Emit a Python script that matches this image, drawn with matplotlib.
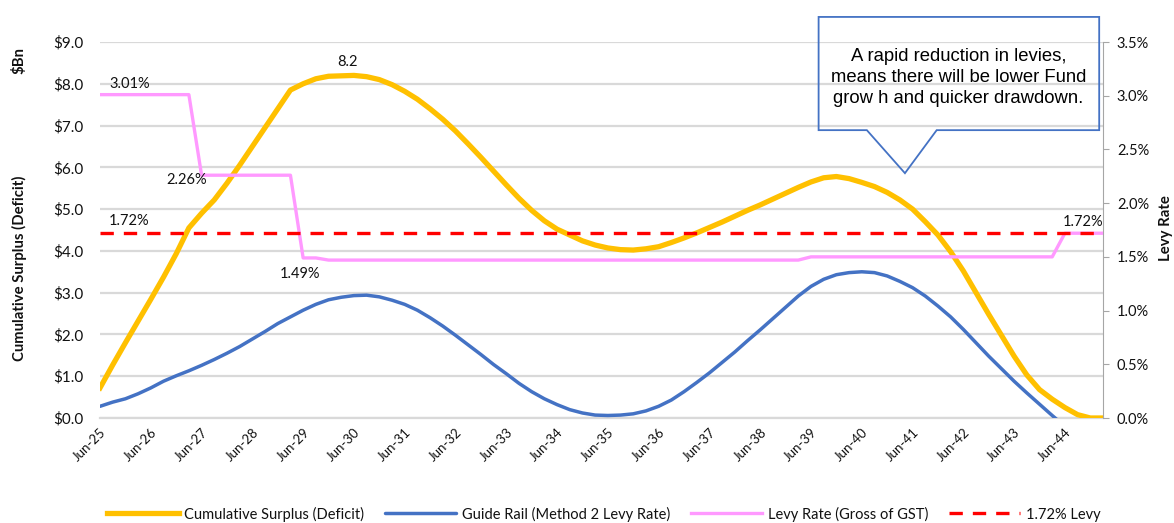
import matplotlib.pyplot as plt
from matplotlib.patches import Polygon

plt.rcParams['font.family'] = ['Lato', 'DejaVu Sans']

# quarterly points, Jun-25 through Mar-45
quarters = list(range(80))
tick_labels = ["Jun-25", "Jun-26", "Jun-27", "Jun-28", "Jun-29", "Jun-30", "Jun-31",
               "Jun-32", "Jun-33", "Jun-34", "Jun-35", "Jun-36", "Jun-37", "Jun-38",
               "Jun-39", "Jun-40", "Jun-41", "Jun-42", "Jun-43", "Jun-44"]

# $Bn
surplus = [0.72, 1.27, 1.80, 2.32, 2.84, 3.37, 3.93, 4.55, 4.90, 5.22,
           5.62, 6.05, 6.50, 6.95, 7.40, 7.85, 8.00, 8.12, 8.18, 8.19,
           8.20, 8.17, 8.10, 7.98, 7.82, 7.63, 7.40, 7.15, 6.87, 6.56,
           6.24, 5.91, 5.58, 5.26, 4.97, 4.72, 4.52, 4.38, 4.24, 4.14,
           4.07, 4.03, 4.02, 4.05, 4.10, 4.20, 4.31, 4.43, 4.56, 4.69,
           4.83, 4.97, 5.10, 5.24, 5.38, 5.52, 5.65, 5.75, 5.78, 5.73,
           5.64, 5.54, 5.40, 5.22, 5.00, 4.70, 4.38, 3.98, 3.52, 3.00,
           2.48, 1.98, 1.48, 1.03, 0.68, 0.45, 0.25, 0.08, 0.00, 0.00]

guide_rail = [0.28, 0.38, 0.46, 0.58, 0.72, 0.88, 1.01, 1.13, 1.26, 1.40,
              1.55, 1.71, 1.89, 2.07, 2.26, 2.42, 2.58, 2.72, 2.83, 2.89,
              2.93, 2.94, 2.90, 2.82, 2.72, 2.58, 2.40, 2.20, 1.98, 1.75,
              1.52, 1.28, 1.06, 0.83, 0.63, 0.46, 0.32, 0.20, 0.12, 0.07,
              0.06, 0.07, 0.10, 0.17, 0.28, 0.43, 0.63, 0.85, 1.08, 1.33,
              1.58, 1.85, 2.11, 2.38, 2.65, 2.92, 3.15, 3.32, 3.43, 3.48,
              3.50, 3.48, 3.40, 3.27, 3.12, 2.92, 2.68, 2.42, 2.12, 1.80,
              1.48, 1.18, 0.88, 0.60, 0.33, 0.06, -0.20, -0.45, -0.70, -0.95]

# % (gross of GST)
levy_rate = [3.01, 3.01, 3.01, 3.01, 3.01, 3.01, 3.01, 3.01,
             2.26, 2.26, 2.26, 2.26, 2.26, 2.26, 2.26, 2.26,
             1.49, 1.49,
             1.47, 1.47, 1.47, 1.47, 1.47, 1.47, 1.47, 1.47, 1.47, 1.47,
             1.47, 1.47, 1.47, 1.47, 1.47, 1.47, 1.47, 1.47, 1.47, 1.47,
             1.47, 1.47, 1.47, 1.47, 1.47, 1.47, 1.47, 1.47, 1.47, 1.47,
             1.47, 1.47, 1.47, 1.47, 1.47, 1.47, 1.47, 1.47,
             1.50, 1.50, 1.50, 1.50, 1.50, 1.50, 1.50, 1.50, 1.50, 1.50,
             1.50, 1.50, 1.50, 1.50, 1.50, 1.50, 1.50, 1.50, 1.50, 1.50,
             1.72, 1.72, 1.72, 1.72]
flat_levy = 1.72

YELLOW = "#FFC000"
BLUE = "#4472C4"
PINK = "#FF99FF"
RED = "#FF0000"
TXT = "#111111"

fig = plt.figure(figsize=(11.74, 5.23), dpi=100)
ax = fig.add_axes([100 / 1174, 105 / 523, 1003 / 1174, 376 / 523])
ax2 = ax.twinx()

l1, = ax.plot(quarters, surplus, color=YELLOW, lw=3.8, solid_joinstyle="round",
              label="Cumulative Surplus (Deficit)", zorder=3)
l2, = ax.plot(quarters, guide_rail, color=BLUE, lw=2.5, solid_capstyle="round",
              label="Guide Rail (Method 2 Levy Rate)", zorder=3)
l3, = ax2.plot(quarters, levy_rate, color=PINK, lw=2.4,
               label="Levy Rate (Gross of GST)", zorder=3)
l4, = ax2.plot(quarters, [flat_levy] * len(quarters), color=RED, lw=2.4,
               dashes=(4, 3), label="1.72% Levy", zorder=4)

ax.set_xlim(0, 79)
ax.set_ylim(0, 9)
ax2.set_ylim(0, 3.5)

ax.set_yticks(range(10))
ax.set_yticklabels([f"${v:.1f}" for v in range(10)], fontsize=11, color=TXT)
ax2.set_yticks([i * 0.5 for i in range(8)])
ax2.set_yticklabels([f"{i * 0.5:.1f}%" for i in range(8)], fontsize=10.5, color=TXT)

ax.set_xticks(quarters[::4])
ax.set_xticklabels(tick_labels, rotation=45, ha="right", rotation_mode="anchor",
                   fontsize=9.5, color=TXT)
ax.tick_params(axis="x", length=0, pad=6)
ax.tick_params(axis="y", length=0, pad=12)
ax2.tick_params(axis="y", length=4, color="#a6a6a6", pad=6, direction="out")

ax.grid(axis="y", color="#d9d9d9", lw=1.6)
ax.set_axisbelow(True)
for s in ["top", "left", "right"]:
    ax.spines[s].set_visible(False)
ax.spines["bottom"].set_color("#d9d9d9")
ax.spines["bottom"].set_linewidth(1.6)
for s in ["top", "left", "bottom"]:
    ax2.spines[s].set_visible(False)
ax2.spines["right"].set_color("#a6a6a6")

# data labels
peak = max(range(len(surplus)), key=lambda i: surplus[i])
ax.annotate(f"{surplus[peak]:.1f}", (peak, surplus[peak]), textcoords="offset pixels",
            xytext=(-6, 13), ha="center", va="center", fontsize=10.5, color=TXT)
lab = dict(textcoords="offset pixels", ha="center", va="center", fontsize=10.5, color=TXT)
ax2.annotate(f"{levy_rate[0]:.2f}%", (0, levy_rate[0]), xytext=(30, 11), **lab)
ax2.annotate(f"{levy_rate[8]:.2f}%", (8, levy_rate[8]), xytext=(-15, -5), **lab)
ax2.annotate(f"{levy_rate[16]:.2f}%", (16, levy_rate[16]), xytext=(-3, -16), **lab)
ax2.annotate(f"{flat_levy:.2f}%", (0, flat_levy), xytext=(29, 12), **lab)
ax2.annotate(f"{levy_rate[77]:.2f}%", (77, levy_rate[77]), xytext=(5, 11), **lab)

# callout box with a pointer
callout = Polygon([(56.6, 9.60), (78.7, 9.60), (78.7, 6.89), (65.9, 6.89),
                   (63.4, 5.86), (60.4, 6.89), (56.6, 6.89)],
                  closed=True, fill=False, edgecolor=BLUE, lw=1.3, clip_on=False, zorder=6)
ax.add_patch(callout)
ax.text(67.6, 8.15, "A rapid reduction in levies,\nmeans there will be lower Fund\ngrow h and quicker drawdown.",
        ha="center", va="center", fontsize=13.3, family=["Liberation Sans", "DejaVu Sans"],
        color="black", linespacing=1.3, zorder=7)

# axis titles
fig.text(19 / 1174, 1 - 268 / 523, "Cumulative Surplus (Deficit)", rotation=90,
         ha="center", va="center", fontsize=10.7, fontweight="bold", color=TXT)
fig.text(19 / 1174, 1 - 60 / 523, "$Bn", rotation=90,
         ha="center", va="center", fontsize=10.7, fontweight="bold", color=TXT)
fig.text(1166 / 1174, 1 - 228 / 523, "Levy Rate", rotation=90,
         ha="center", va="center", fontsize=10.7, fontweight="bold", color=TXT)

fig.legend(handles=[l1, l2, l3, l4], loc="center", bbox_to_anchor=(604 / 1174, 1 - 514 / 523),
           ncol=4, frameon=False, fontsize=10.5, handlelength=4.9, handletextpad=0.4,
           columnspacing=1.4, borderaxespad=0, labelcolor=TXT)

fig.savefig("out.png", dpi=100, facecolor="white")
